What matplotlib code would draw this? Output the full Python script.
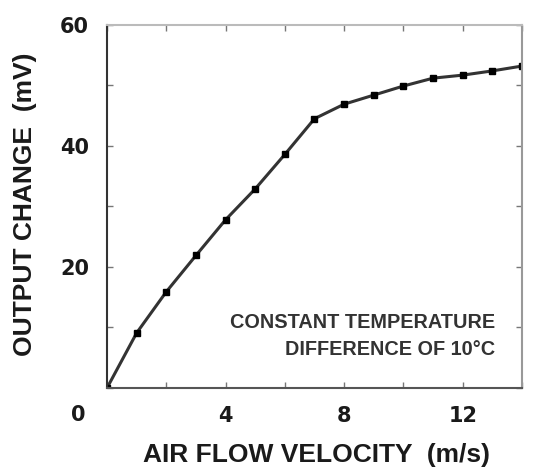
import matplotlib
matplotlib.use("Agg")
import matplotlib.pyplot as plt
from matplotlib.ticker import MultipleLocator

plt.rcParams['font.family'] = ['Liberation Sans', 'DejaVu Sans']

velocity = [0, 1, 2, 3, 4, 5, 6, 7, 8, 9, 10, 11, 12, 13, 14]
output_mv = [0, 9.1, 15.9, 21.9, 27.8, 32.9, 38.6, 44.5, 46.9, 48.4, 49.9, 51.2, 51.7, 52.4, 53.2]

x_labels = [4, 8, 12]
y_labels = [20, 40, 60]

fig = plt.figure(figsize=(5.46, 4.70), dpi=100)
ax = fig.add_axes([0.196, 0.1745, 0.76, 0.7725])

ax.plot(velocity, output_mv, color="#333333", linewidth=2.2,
        marker="s", markersize=5, markerfacecolor="black", markeredgecolor="black")

ax.set_xlim(0, 14)
ax.set_ylim(0, 60)
ax.set_xticks(x_labels)
ax.set_yticks(y_labels)
ax.xaxis.set_minor_locator(MultipleLocator(2))
ax.yaxis.set_minor_locator(MultipleLocator(10))
ax.tick_params(which="both", direction="in", top=True, right=True,
               length=4, width=1, color="#777777")
ax.tick_params(axis="both", labelsize=15, pad=13)
for lbl in ax.get_xticklabels() + ax.get_yticklabels():
    lbl.set_fontweight("bold")
    lbl.set_color("#1a1a1a")
    lbl.set_family("DejaVu Sans")

ax.spines["left"].set_color("#333333")
ax.spines["bottom"].set_color("#555555")
ax.spines["top"].set_color("#bbbbbb")
ax.spines["right"].set_color("#999999")
for s in ax.spines.values():
    s.set_linewidth(1.5)

# shared origin label
ax.text(-0.07, -0.074, "0", transform=ax.transAxes, fontsize=15, fontweight="bold",
        family="DejaVu Sans", color="#1a1a1a", ha="center", va="center")

ax.set_xlabel("AIR FLOW VELOCITY  (m/s)", fontsize=19, fontweight="bold",
              color="#1a1a1a", va="center")
ax.set_ylabel("OUTPUT CHANGE  (mV)", fontsize=19, fontweight="bold",
              color="#1a1a1a", va="center")
ax.xaxis.set_label_coords(0.504, -0.185)
ax.yaxis.set_label_coords(-0.198, 0.507)

ax.text(13.1, 10.9, "CONSTANT TEMPERATURE", fontsize=14.3, fontweight="bold",
        color="#333333", ha="right", va="center")
ax.text(13.1, 6.3, "DIFFERENCE OF 10\u00b0C", fontsize=14.3, fontweight="bold",
        color="#333333", ha="right", va="center")

fig.savefig("out.png", dpi=100)
